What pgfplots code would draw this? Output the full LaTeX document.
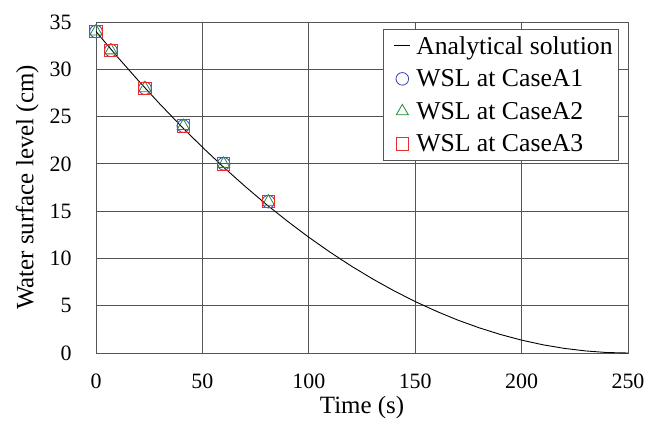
\documentclass[border=0pt]{standalone}
\usepackage{pgfplots}
\pgfplotsset{compat=1.18}
\usepackage{fontspec}
\setmainfont{Liberation Serif}

\definecolor{gridgray}{RGB}{85,85,85}
\definecolor{markblue}{RGB}{55,65,185}
\definecolor{markgreen}{RGB}{30,140,50}
\definecolor{markred}{RGB}{232,45,45}

\pgfplotsset{
    markleg/.style={legend image code/.code={
        \path[draw=none, fill=none] (-7bp,0bp) -- (20bp,0bp);
        \draw[only marks] plot coordinates {(8bp,0bp)};}},
    lineleg/.style={legend image code/.code={
        \path[draw=none, fill=none] (-7bp,0bp) -- (20bp,0bp);
        \draw (0bp,0bp) -- (16bp,0bp);}},
}

\begin{document}
\begin{tikzpicture}
\begin{axis}[
    scale only axis,
    width=532bp, height=331bp,
    xmin=0, xmax=250, ymin=0, ymax=35,
    xtick={0,50,100,150,200,250},
    ytick={0,5,10,15,20,25,30,35},
    grid=major,
    grid style={gridgray, line width=0.9pt},
    axis line style={gridgray, line width=0.9pt},
    major tick length=0pt,
    /pgf/number format/assume math mode=true,
    xticklabel style={font=\fontsize{22}{26}\selectfont, yshift=-17bp},
    yticklabel style={font=\fontsize{22}{26}\selectfont, xshift=-21bp},
    xlabel style={font=\fontsize{25}{30}\selectfont, yshift=-1bp},
    ylabel style={font=\fontsize{25}{30}\selectfont, yshift=4bp},
    xlabel={Time (s)},
    ylabel={Water surface level (cm)},
    legend style={at={(0.983,0.979)}, anchor=north east,
        draw=gridgray, line width=0.7pt, fill=white,
        font=\fontsize{25.8}{29}\selectfont,
        row sep=10bp, inner xsep=4pt, inner ysep=5pt},
    legend cell align=left,
]

\addplot[black, line width=0.9pt, no marks, lineleg] coordinates {
    (0,34) (10,31.33) (20,28.78) (30,26.33) (40,23.99) (50,21.76)
    (60,19.64) (70,17.63) (80,15.72) (90,13.93) (100,12.24)
    (110,10.66) (120,9.19) (130,7.83) (140,6.58) (150,5.44)
    (160,4.41) (170,3.48) (180,2.67) (190,1.96) (200,1.36)
    (210,0.87) (220,0.49) (230,0.22) (240,0.05) (250,0)
};
\addlegendentry{Analytical solution}

\addplot[only marks, mark=o, mark size=6.3bp, markblue, line width=0.8pt, markleg] coordinates {
    (0,34) (7,32) (23,28) (41,24) (60,20) (81,16)
};
\addlegendentry{WSL at CaseA1}

\addplot[only marks, mark=triangle, mark size=7bp, markgreen, line width=0.8pt, markleg] coordinates {
    (0,34) (7,32) (23,28) (41,24) (60,20) (81,16)
};
\addlegendentry{WSL at CaseA2}

\addplot[only marks, mark=square, mark size=6.2bp, markred, line width=0.8pt, markleg] coordinates {
    (0,34) (7,32) (23,28) (41,24) (60,20) (81,16)
};
\addlegendentry{WSL at CaseA3}

\coordinate (sw) at (rel axis cs:0,0);
\coordinate (ne) at (rel axis cs:1,1);
\end{axis}
\pgfresetboundingbox
\path ([shift={(-96bp,-75bp)}]sw) rectangle ([shift={(18bp,22bp)}]ne);
\end{tikzpicture}
\end{document}
